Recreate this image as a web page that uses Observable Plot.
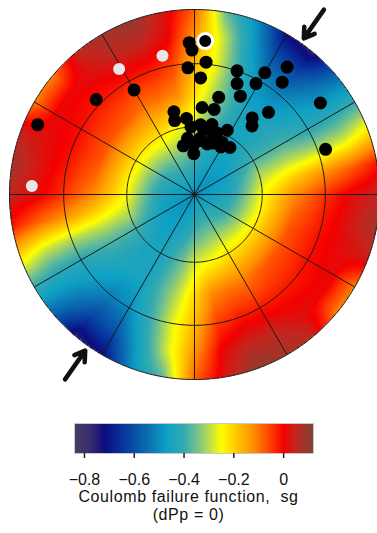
<!DOCTYPE html>
<html><head><meta charset="utf-8">
<script src="https://cdn.jsdelivr.net/npm/d3@7"></script>
<script src="https://cdn.jsdelivr.net/npm/@observablehq/plot@0.6"></script>
<style>
body{margin:0;background:#fff;width:377px;height:533px;overflow:hidden;font-family:"Liberation Sans",Arial,sans-serif;}
svg{display:block}
#title{width:377px;text-align:center;font-size:16px;line-height:18px;letter-spacing:0.6px;color:#111;}
#title div{height:18px;}
</style></head><body>
<div id="chart"></div><div id="bar"></div>
<div id="title"><div>Coulomb failure function,&nbsp; sg</div><div>(dPp = 0)</div></div>
<script>
// ---------- data ----------
// Coulomb failure function sampled on a polar grid (azimuth deg, angle from vertical deg);
// field repeats every 180 deg of azimuth
const fieldAz = [0,10,20,30,40,50,60,70,80,90,100,110,120,130,140,150,160,170];
const fieldInc = [0,15,30,45,60,75,90];
const cffCenter = -0.5;
const cffInc15 = [-0.40,-0.43,-0.45,-0.46,-0.47,-0.47,-0.47,-0.46,-0.45,-0.44,-0.42,-0.41,-0.40,-0.39,-0.38,-0.37,-0.37,-0.38];
const cffInc30 = [-0.28,-0.35,-0.40,-0.45,-0.45,-0.42,-0.38,-0.32,-0.28,-0.25,-0.24,-0.23,-0.22,-0.22,-0.22,-0.22,-0.24,-0.26];
const cffInc45 = [-0.21,-0.30,-0.38,-0.45,-0.45,-0.43,-0.38,-0.30,-0.20,-0.12,-0.09,-0.07,-0.07,-0.07,-0.08,-0.10,-0.10,-0.12];
const cffInc60 = [-0.17,-0.27,-0.40,-0.50,-0.52,-0.47,-0.42,-0.30,-0.13,-0.04,-0.02,-0.01,-0.01,-0.02,-0.02,-0.02,-0.02,-0.05];
const cffInc75 = [-0.13,-0.28,-0.45,-0.60,-0.62,-0.52,-0.42,-0.28,-0.08,0.02,0.03,0.02,0.01,0.01,0.02,0.05,0.05,0.01];
const cffInc90 = [-0.08,-0.36,-0.50,-0.72,-0.76,-0.56,-0.40,-0.22,-0.02,0.05,0.08,0.04,-0.11,-0.11,0.05,0.08,0.10,0.03];

// poles (azimuth deg clockwise from top, angle from vertical deg)
const blackAz  = [358,359,5,357,3,19,30,36,38,29,21,25,14,5,13,346,345,354,42,37,40,54,71,314,330,294,357,5,14,27,353,6,18,347,359,14,28,37,29,359,8,20,19,6];
const blackInc = [71,67,61,58,53,60,65,74,66,58,54,49,45,39,39,38,34,34,50,43,40,73,64,63,55,82,30,31,32,32,25,25,27,22,22,23,26,26,24,18,29,29,24,24];
const ringedAz = [4], ringedInc = [72];
const whiteAz = [347,329,273], whiteInc = [66,68,77];
const arrowAz = [35,215];

// grid
const gridInc = [30,60,90];
const spokeAz = [0,30,60,90,120,150,180,210,240,270,300,330];

// colour bar
const colorStops = [-0.84,-0.78,-0.72,-0.64,-0.55,-0.47,-0.40,-0.35,-0.30,-0.25,-0.19,-0.12,-0.05,0.0,0.05,0.12];
const colorRamp = ["#4a3c62","#3a2e6c","#0c0c80","#0838a0","#0a6cb0","#0ea0c4","#35aab0","#70c090","#b8dc50","#ffff00","#ffc800","#ff8c00","#ff3c00","#f40000","#c02820","#7e4436"];
const tickValues = [-0.8,-0.6,-0.4,-0.2,0];

// ---------- helpers ----------
const rad = Math.PI/180;
const rings = [fieldAz.map(() => cffCenter), cffInc15, cffInc30, cffInc45, cffInc60, cffInc75, cffInc90];
function proj(az, inc) { const r = Math.SQRT2*Math.sin(inc*rad/2); return [r*Math.sin(az*rad), r*Math.cos(az*rad)]; }
function field(x, y) {
  const r = Math.hypot(x, y);
  if (r > 1) return NaN;
  const inc = 2*Math.asin(Math.min(1, r/Math.SQRT2))/rad;
  let az = Math.atan2(x, y)/rad; az = ((az % 180) + 180) % 180;
  const n = fieldAz.length, fi = az/10, i0 = Math.floor(fi) % n, i1 = (i0+1) % n, ta = fi - Math.floor(fi);
  let j = 0; while (j < fieldInc.length-2 && inc > fieldInc[j+1]) j++;
  const tb = (inc - fieldInc[j])/(fieldInc[j+1]-fieldInc[j]);
  const a = rings[j][i0]*(1-ta) + rings[j][i1]*ta;
  const b = rings[j+1][i0]*(1-ta) + rings[j+1][i1]*ta;
  return a*(1-tb) + b*tb;
}
const colorScale = {type: "linear", domain: colorStops, range: colorRamp, clamp: true};

const W = 377, H = 400, R = 185, CX = 194, CY = 194;
const ringPts = gridInc.flatMap(inc => d3.range(0, 361, 1).map(az => ({inc, az})));
const pts = (A, I) => A.map((a, i) => ({az: a, inc: I[i]}));
const px = d => proj(d.az, d.inc)[0], py = d => proj(d.az, d.inc)[1];

const main = Plot.plot({
  width: W, height: H, margin: 0,
  x: {domain: [-CX/R, (W-CX)/R], axis: null},
  y: {domain: [-(H-CY)/R, CY/R], axis: null},
  color: colorScale,
  marks: [
    Plot.raster({fill: field, x1: -1.01, x2: 1.01, y1: -1.01, y2: 1.01, pixelSize: 1}),
    Plot.link(spokeAz, {x1: () => 0, y1: () => 0, x2: a => proj(a, 90)[0], y2: a => proj(a, 90)[1], stroke: "#1a1a1a", strokeWidth: 1}),
    Plot.line(ringPts, {x: px, y: py, z: "inc", stroke: "#1a1a1a", strokeWidth: 1}),
    Plot.dot(pts(whiteAz, whiteInc), {x: px, y: py, r: 6, fill: "#e8e8e8"}),
    Plot.dot(pts(blackAz, blackInc), {x: px, y: py, r: 6.5, fill: "#000"}),
    Plot.dot(pts(ringedAz, ringedInc), {x: px, y: py, r: 7.5, fill: "#000", stroke: "#fff", strokeWidth: 3}),
    Plot.arrow(arrowAz, {
      x1: a => 1.22*Math.sin(a*rad), y1: a => 1.22*Math.cos(a*rad),
      x2: a => 1.03*Math.sin(a*rad), y2: a => 1.03*Math.cos(a*rad),
      stroke: "#111", strokeWidth: 4.5, headLength: 11, headAngle: 65
    })
  ]
});
document.getElementById("chart").append(main);

const bar = Plot.plot({
  width: W, height: 88, marginLeft: 74, marginRight: 64, marginTop: 23, marginBottom: 35,
  x: {domain: [-0.84, 0.12], axis: null},
  y: {domain: [0, 1], axis: null},
  color: colorScale,
  style: {fontFamily: "'Liberation Sans', Arial, sans-serif", fontSize: "16px", color: "#111", overflow: "visible"},
  marks: [
    Plot.raster({fill: (x, y) => x, x1: -0.84, x2: 0.12, y1: 0, y2: 1, pixelSize: 1}),
    Plot.frame({stroke: "#c8c8c8", strokeWidth: 1}),
    Plot.axisX(tickValues, {tickSize: 5, tickPadding: 15, strokeWidth: 1.5, stroke: "#222", fontSize: 16, label: null,
      tickFormat: d => d === 0 ? "0" : d3.format(".1f")(d).replace("-", "\u2212")})
  ]
});
document.getElementById("bar").append(bar);
</script>
</body></html>
